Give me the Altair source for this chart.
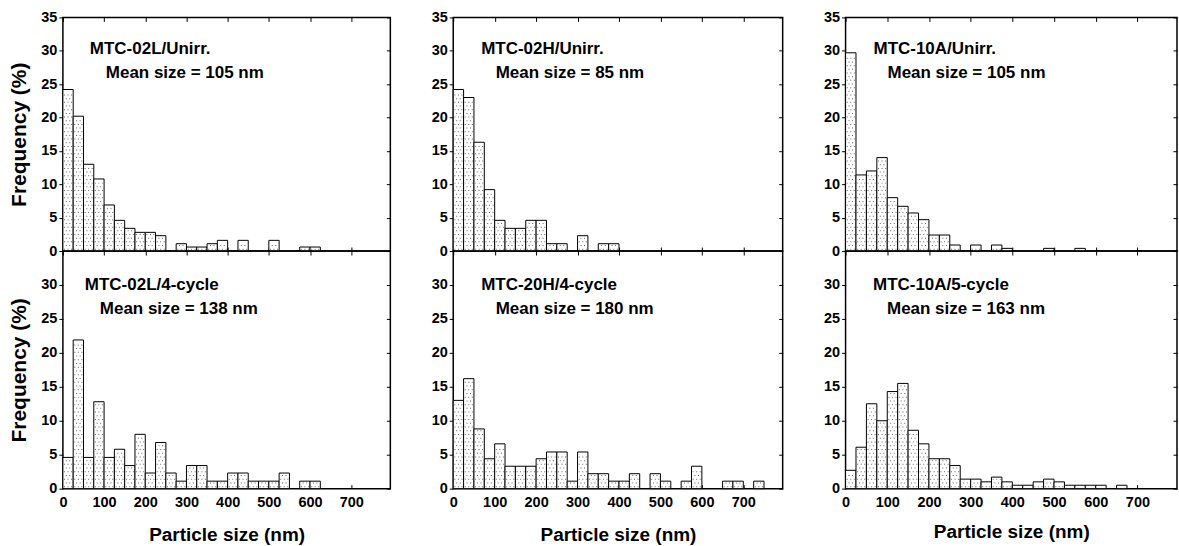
import altair as alt
import pandas as pd

BIN_WIDTH = 25  # nm per histogram bin

names = ["MTC-02L/Unirr.", "MTC-02H/Unirr.", "MTC-10A/Unirr.",
         "MTC-02L/4-cycle", "MTC-20H/4-cycle", "MTC-10A/5-cycle"]
mean_sizes = [105, 85, 105, 138, 180, 163]

# Frequency (%) per 25-nm bin, starting at 0 nm
freq_02L_unirr = [24.2, 20.2, 13.0, 10.8, 6.9, 4.6, 3.4, 2.8, 2.8, 2.3, 0, 1.1, 0.6,
                  0.6, 1.1, 1.6, 0, 1.6, 0, 0, 1.6, 0, 0, 0.6, 0.6]
freq_02H_unirr = [24.2, 23.0, 16.3, 9.2, 4.6, 3.4, 3.4, 4.6, 4.6, 1.1, 1.1, 0, 2.3,
                  0, 1.1, 1.1]
freq_10A_unirr = [29.7, 11.4, 12.0, 14.0, 8.0, 6.7, 5.7, 4.7, 2.4, 2.4, 0.9, 0, 0.9,
                  0, 0.9, 0.4, 0, 0, 0, 0.4, 0, 0, 0.4]
freq_02L_4cyc = [4.6, 21.9, 4.6, 12.8, 4.6, 5.8, 3.4, 8.0, 2.3, 6.8, 2.3, 1.1, 3.4,
                 3.4, 1.1, 1.1, 2.3, 2.3, 1.1, 1.1, 1.1, 2.3, 0, 1.1, 1.1]
freq_20H_4cyc = [13.0, 16.2, 8.8, 4.4, 6.6, 3.3, 3.3, 3.3, 4.4, 5.4, 5.4, 1.1, 5.4,
                 2.2, 2.2, 1.1, 1.1, 2.2, 0, 2.2, 1.1, 0, 1.1, 3.3, 0, 0, 1.1, 1.1,
                 0, 1.1]
freq_10A_5cyc = [2.7, 6.1, 12.5, 10.0, 14.3, 15.5, 8.6, 6.6, 4.4, 4.4, 3.4, 1.4, 1.4,
                 1.0, 1.7, 1.0, 0.5, 0.5, 1.0, 1.4, 1.0, 0.5, 0.5, 0.5, 0.5, 0, 0.5]
all_freqs = [freq_02L_unirr, freq_02H_unirr, freq_10A_unirr,
             freq_02L_4cyc, freq_20H_4cyc, freq_10A_5cyc]

x_ticks = [0, 100, 200, 300, 400, 500, 600, 700]
y_ticks_top = [0, 5, 10, 15, 20, 25, 30, 35]
y_ticks_bottom = [0, 5, 10, 15, 20, 25, 30]

# ---- layout / style ----
FONT = "Liberation Sans"
WIDTHS = [328, 330, 332]
HEIGHTS = [234, 238]
X_DOMAIN = [0, 795]
Y_DOMAIN = [0, 35]
TEXT_X = [(27, 43), (28, 42.5), (28, 42), (22, 37), (28, 42.5), (27.5, 41.5)]
TEXT_Y = [(32, 56), (34, 58)]
XTITLE_PAD = [16, 16, 13]
ROW_STEP = 0.55


def panel(i):
    row, col = divmod(i, 3)
    freqs = all_freqs[i]
    df = pd.DataFrame({"bin": list(range(len(freqs))), "freq": freqs})
    df["x0"] = df["bin"] * BIN_WIDTH
    df["x1"] = df["x0"] + BIN_WIDTH
    df = df[df["freq"] > 0]

    xscale = alt.Scale(domain=X_DOMAIN, nice=False, zero=False)
    yscale = alt.Scale(domain=Y_DOMAIN, nice=False, zero=False)
    bottom = row == 1
    yt = y_ticks_bottom if bottom else y_ticks_top

    xaxis = alt.Axis(orient="bottom", values=x_ticks, labels=bottom, tickSize=4,
                     offset=-4, labelPadding=7, domain=False, grid=False,
                     labelFlush=False, titlePadding=XTITLE_PAD[col])
    yaxis = alt.Axis(orient="left", values=yt, tickSize=4, labelPadding=2,
                     domain=False, grid=False, titlePadding=11)

    bars = alt.Chart(df).mark_rect(fill="white", stroke="black", strokeWidth=1).encode(
        x=alt.X("x0:Q", scale=xscale, axis=xaxis,
                title="Particle size (nm)" if bottom else None),
        x2="x1:Q",
        y=alt.Y("freq:Q", scale=yscale, axis=yaxis,
                title="Frequency (%)" if col == 0 else None),
        y2=alt.datum(0),
    )

    dots = alt.Chart(df).transform_calculate(
        row=f"sequence(0, floor(datum.freq / {ROW_STEP}))"
    ).transform_flatten(["row"]).transform_calculate(
        yy=f"(datum.row + 0.5) * {ROW_STEP}",
        offs="datum.row % 2 == 0 ? [4, 12.5, 21] : [8.25, 16.75]",
    ).transform_flatten(["offs"]).transform_calculate(
        xx="datum.x0 + datum.offs"
    ).mark_square(size=1, color="#666", opacity=1).encode(
        x=alt.X("xx:Q", scale=xscale, title=None,
                axis=alt.Axis(orient="top", values=x_ticks, labels=False, tickSize=4,
                              offset=-4, domain=False, grid=False)),
        y=alt.Y("yy:Q", scale=yscale, title=None,
                axis=alt.Axis(orient="right", values=yt, labels=False, tickSize=4,
                              offset=-4, domain=False, grid=False)),
    )

    tdf = pd.DataFrame({"label": [names[i]],
                        "mean": [f"Mean size = {mean_sizes[i]} nm"]})
    t1 = alt.Chart(tdf).mark_text(align="left", baseline="middle", font=FONT,
                                  fontSize=17, fontWeight="bold", color="black").encode(
        text="label:N", x=alt.value(TEXT_X[i][0]), y=alt.value(TEXT_Y[row][0]))
    t2 = alt.Chart(tdf).mark_text(align="left", baseline="middle", font=FONT,
                                  fontSize=17, fontWeight="bold", color="black").encode(
        text="mean:N", x=alt.value(TEXT_X[i][1]), y=alt.value(TEXT_Y[row][1]))

    return alt.layer(bars, dots, t1, t2).resolve_axis(
        x="independent", y="independent"
    ).properties(width=WIDTHS[col], height=HEIGHTS[row])


chart = alt.concat(
    *[panel(i) for i in range(6)], columns=3,
    spacing={"row": 0, "column": 63}, bounds="flush"
).configure_view(
    stroke="black", strokeWidth=1.5
).configure_axis(
    labelFont=FONT, labelFontSize=14.5, labelFontWeight="bold", labelColor="black",
    titleFont=FONT, titleFontWeight="bold", titleColor="black",
    tickColor="black", tickWidth=1, grid=False,
).configure_axisX(titleFontSize=19).configure_axisY(titleFontSize=21).properties(
    padding={"left": 8, "top": 8, "right": 0, "bottom": 0}, background="white"
)

chart.save("out.html", embed_options={"renderer": "svg", "actions": False})
